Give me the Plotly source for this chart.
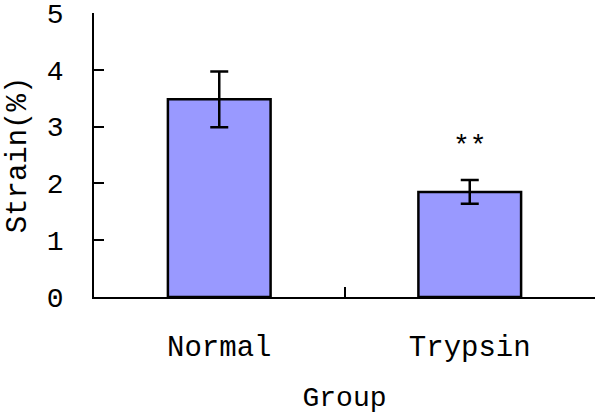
import plotly.graph_objects as go

categories = ["Normal", "Trypsin"]
means = [3.48, 1.85]
errors = [0.49, 0.21]
significance = ["", "**"]
y_ticks = [0, 1, 2, 3, 4, 5]

FONT = "Liberation Mono, Courier New, monospace"

fig = go.Figure()
fig.add_trace(go.Bar(
    x=categories, y=means, width=0.41,
    marker=dict(color="#9999FF", line=dict(color="black", width=2.5)),
    error_y=dict(type="data", array=errors, visible=True, color="black",
                 thickness=2.5, width=9),
))

for cat, m, e, s in zip(categories, means, errors, significance):
    if s:
        fig.add_annotation(x=cat, y=m + e, text=s, showarrow=False,
                           yanchor="middle", yshift=33,
                           font=dict(family=FONT, size=28, color="black"))

fig.update_layout(
    width=600, height=414,
    margin=dict(l=94, r=5, t=13, b=117),
    plot_bgcolor="white", paper_bgcolor="white",
    showlegend=False,
    font=dict(family=FONT, color="black"),
)
fig.update_xaxes(
    range=[-0.5, 1.5], tickson="boundaries", ticks="inside", ticklen=10,
    tickwidth=1.5, tickcolor="black", showline=True, linecolor="black",
    linewidth=1.5, showgrid=False, tickfont=dict(size=29),
    ticklabelstandoff=22, automargin=False, ticklabeloverflow="allow",
    title=dict(text="Group", font=dict(size=28), standoff=23),
)
fig.update_yaxes(
    range=[0, 5], tickvals=y_ticks, ticks="inside", ticklen=10, tickwidth=1.5,
    tickcolor="black", showline=True, linecolor="black", linewidth=1.5,
    showgrid=False, zeroline=False, tickfont=dict(size=28),
    ticklabelstandoff=23, automargin=False, ticklabeloverflow="allow",
    title=dict(text="Strain(%)", font=dict(size=29), standoff=12),
)
fig.write_html("out.html", config={"displayModeBar": False},
               post_script="document.body.style.margin='0';document.body.style.overflow='hidden';")
